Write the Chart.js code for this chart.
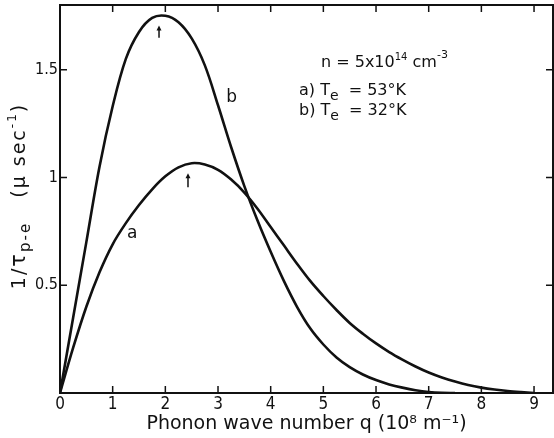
<!DOCTYPE html>
<html>
<head>
<meta charset="utf-8">
<script src="https://cdn.jsdelivr.net/npm/chart.js@4.4.0/dist/chart.umd.min.js"></script>
<style>
  html, body { margin: 0; padding: 0; background: #fff; }
  #wrap { width: 554px; height: 438px; }
</style>
</head>
<body>
<div id="wrap"><canvas id="chart"></canvas></div>
<script>
// curve a: Te = 53 K
var qA = [0, 0.25, 0.5, 0.75, 1, 1.25, 1.5, 1.75, 2, 2.25, 2.5, 2.75, 3, 3.25, 3.5, 3.75, 4, 4.25, 4.5, 4.75, 5, 5.25, 5.5, 5.75, 6, 6.25, 6.5, 6.75, 7, 7.25, 7.5, 7.75, 8, 8.25, 8.5, 8.75, 9];
var rateA = [0, 0.21, 0.40, 0.56, 0.69, 0.788, 0.872, 0.945, 1.005, 1.047, 1.066, 1.06, 1.035, 0.99, 0.93, 0.855, 0.77, 0.685, 0.60, 0.52, 0.45, 0.385, 0.325, 0.275, 0.23, 0.19, 0.155, 0.123, 0.095, 0.072, 0.053, 0.037, 0.025, 0.016, 0.009, 0.004, 0];

// curve b: Te = 32 K
var qB = [0, 0.25, 0.5, 0.75, 1, 1.25, 1.5, 1.75, 2, 2.25, 2.5, 2.75, 3, 3.25, 3.5, 3.75, 4, 4.25, 4.5, 4.75, 5, 5.25, 5.5, 5.75, 6, 6.25, 6.5, 6.75, 7, 7.25, 7.5];
var rateB = [0, 0.35, 0.70, 1.05, 1.33, 1.55, 1.675, 1.74, 1.75, 1.72, 1.645, 1.52, 1.335, 1.14, 0.96, 0.80, 0.655, 0.52, 0.40, 0.30, 0.225, 0.165, 0.12, 0.086, 0.06, 0.04, 0.025, 0.013, 0.005, 0.001, 0];

// peak arrows [q, tip, tail]
var arrowQ = [2.43, 1.88];
var arrowTip = [1.02, 1.705];
var arrowTail = [0.955, 1.648];

// curve labels
var curveNames = ['a', 'b'];
var curveLabelQ = [1.37, 3.26];
var curveLabelV = [0.74, 1.37];

var xTickValues = [0, 1, 2, 3, 4, 5, 6, 7, 8, 9];
var yTickValues = [0.5, 1, 1.5];

var font = "'DejaVu Sans', sans-serif";
var tickFont = "'Liberation Sans Narrow', 'DejaVu Sans Condensed', 'Liberation Sans', sans-serif";

function toPoints(xs, ys) {
  return xs.map(function (x, i) { return { x: x, y: ys[i] }; });
}

// draws text made of pieces [text, size, dy]
function drawRich(ctx, parts, x, y, align) {
  var total = 0;
  parts.forEach(function (p) {
    ctx.font = p[1] + 'px ' + font;
    total += ctx.measureText(p[0]).width;
  });
  var cx = align === 'center' ? x - total / 2 : x;
  parts.forEach(function (p) {
    ctx.font = p[1] + 'px ' + font;
    ctx.fillText(p[0], cx, y + p[2]);
    cx += ctx.measureText(p[0]).width;
  });
}

var frame = {
  id: 'frame',
  afterDatasetsDraw: function (chart) {
    var ctx = chart.ctx, a = chart.chartArea;
    var sx = chart.scales.x, sy = chart.scales.y;
    ctx.save();
    ctx.strokeStyle = '#111';
    ctx.lineWidth = 2;
    ctx.strokeRect(a.left, a.top, a.right - a.left, a.bottom - a.top);

    // inward ticks on all four sides
    ctx.lineWidth = 1.5;
    ctx.beginPath();
    sx.ticks.forEach(function (t) {
      if (t.value === 0) return;
      var px = sx.getPixelForValue(t.value);
      ctx.moveTo(px, a.bottom); ctx.lineTo(px, a.bottom - 7);
      ctx.moveTo(px, a.top); ctx.lineTo(px, a.top + 7);
    });
    sy.ticks.forEach(function (t) {
      var py = sy.getPixelForValue(t.value);
      ctx.moveTo(a.left, py); ctx.lineTo(a.left + 7, py);
      ctx.moveTo(a.right, py); ctx.lineTo(a.right - 7, py);
    });
    ctx.stroke();

    // peak arrows
    ctx.fillStyle = '#111';
    ctx.lineWidth = 1.5;
    arrowQ.forEach(function (q, i) {
      var px = sx.getPixelForValue(q);
      var tip = sy.getPixelForValue(arrowTip[i]);
      var tail = sy.getPixelForValue(arrowTail[i]);
      ctx.beginPath();
      ctx.moveTo(px, tip + 3); ctx.lineTo(px, tail);
      ctx.stroke();
      ctx.beginPath();
      ctx.moveTo(px, tip); ctx.lineTo(px - 2.5, tip + 5); ctx.lineTo(px + 2.5, tip + 5);
      ctx.closePath();
      ctx.fill();
    });

    // curve labels
    ctx.textAlign = 'center';
    ctx.textBaseline = 'middle';
    ctx.font = '17px ' + font;
    curveNames.forEach(function (n, i) {
      ctx.fillText(n, sx.getPixelForValue(curveLabelQ[i]), sy.getPixelForValue(curveLabelV[i]));
    });

    // parameter block
    ctx.textAlign = 'left';
    ctx.textBaseline = 'alphabetic';
    drawRich(ctx, [['n = 5x10', 16, 0], ['14', 10, -7], [' cm', 16, 0], ['-3', 11, -9]], a.left + 261, 67, 'left');
    drawRich(ctx, [['a) T', 16, 0], ['e', 14, 5], ['  = 53°K', 16, 0]], a.left + 239, 95, 'left');
    drawRich(ctx, [['b) T', 16, 0], ['e', 14, 5], ['  = 32°K', 16, 0]], a.left + 239, 115, 'left');

    // y axis title
    ctx.translate(25, 196);
    ctx.rotate(-Math.PI / 2);
    ctx.letterSpacing = '2px';
    drawRich(ctx, [['1/', 19, 0], ['τ', 21, 0], ['p-e', 15, 5], ['   (μ sec', 19, 0], ['-1', 12, -9], [')', 19, 0]], 0, 0, 'center');
    ctx.restore();
  }
};

new Chart(document.getElementById('chart'), {
  type: 'line',
  data: {
    datasets: [
      { label: 'a) Te = 53°K', data: toPoints(qA, rateA), borderColor: '#111', borderWidth: 2.6, pointRadius: 0, fill: false, tension: 0.35 },
      { label: 'b) Te = 32°K', data: toPoints(qB, rateB), borderColor: '#111', borderWidth: 2.6, pointRadius: 0, fill: false, tension: 0.35 }
    ]
  },
  options: {
    responsive: true,
    maintainAspectRatio: false,
    animation: false,
    devicePixelRatio: 1,
    layout: { padding: { left: 0, right: 1, top: 5, bottom: 0 } },
    plugins: { legend: { display: false }, tooltip: { enabled: false } },
    scales: {
      x: {
        type: 'linear',
        min: 0,
        max: 9.36,
        afterBuildTicks: function (s) { s.ticks = xTickValues.map(function (v) { return { value: v }; }); },
        afterFit: function (s) { s.height = 45; s.paddingLeft = 0; s.paddingRight = 0; },
        grid: { display: false, drawTicks: false },
        border: { display: false },
        ticks: { color: '#111', padding: 1, maxRotation: 0, font: { family: tickFont, size: 17 } },
        title: {
          display: true,
          text: 'Phonon wave number q (10⁸ m⁻¹)',
          color: '#111',
          font: { family: font, size: 19 },
          padding: { top: 0, bottom: 3 }
        }
      },
      y: {
        type: 'linear',
        min: 0,
        max: 1.8,
        afterBuildTicks: function (s) { s.ticks = yTickValues.map(function (v) { return { value: v }; }); },
        afterFit: function (s) { s.width = 60; s.paddingTop = 0; s.paddingBottom = 0; },
        grid: { display: false, drawTicks: false },
        border: { display: false },
        ticks: { color: '#111', padding: 2, font: { family: tickFont, size: 16 }, callback: function (v) { return String(v); } }
      }
    }
  },
  plugins: [frame]
});
</script>
</body>
</html>
